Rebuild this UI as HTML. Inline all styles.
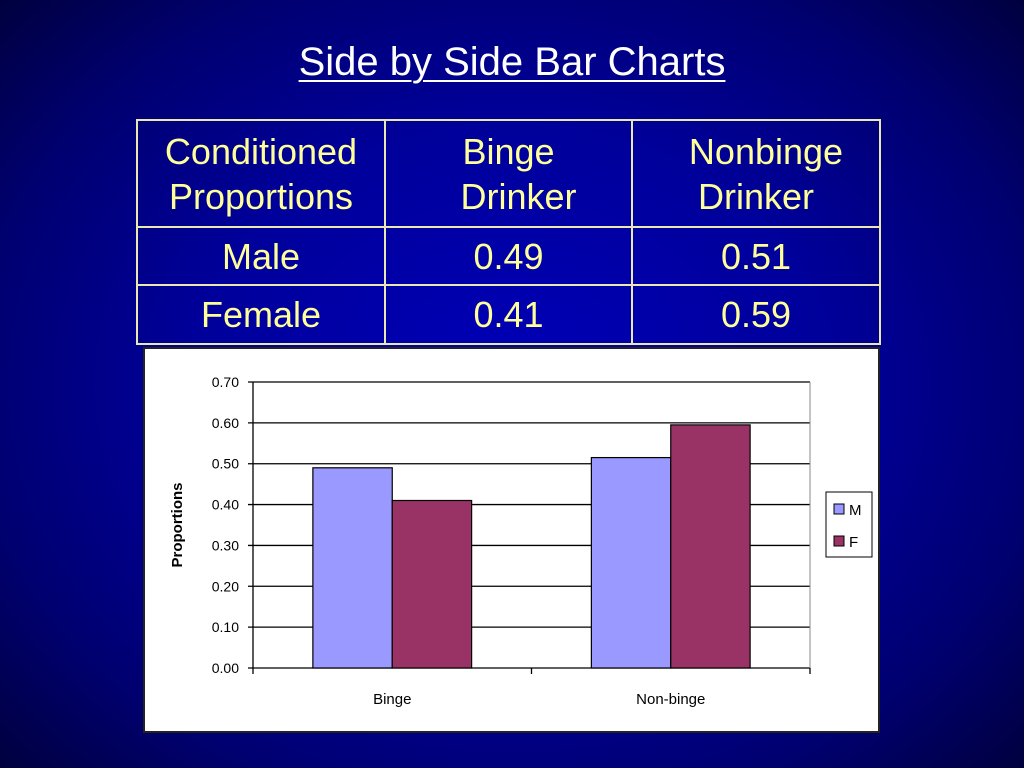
<!DOCTYPE html>
<html><head><meta charset="utf-8"><style>
html,body{margin:0;padding:0}
body{width:1024px;height:768px;position:relative;overflow:hidden;font-family:"Liberation Sans",Arial,sans-serif;
background:radial-gradient(ellipse 70% 75% at 50% 50%,#0000b8 0%,#00009a 45%,#000070 75%,#00003a 100%);}
.title{position:absolute;left:0;width:1024px;top:40px;text-align:center;color:#fff;font-size:40px;text-decoration:underline;text-decoration-thickness:2px;text-underline-offset:5px}
table{position:absolute;left:136px;top:119px;border-collapse:collapse;color:#ffff99;font-size:36px}
td{border:2px solid #e8e8b0;text-align:center;padding:0;line-height:45px}
</style></head><body>
<div class="title">Side by Side Bar Charts</div>
<table>
<tr style="height:107px"><td style="width:246px">Conditioned<br>Proportions</td><td style="width:245px">Binge<br>&nbsp;&nbsp;Drinker</td><td style="width:246px">&nbsp;&nbsp;Nonbinge<br>Drinker</td></tr>
<tr style="height:58px"><td>Male</td><td>0.49</td><td>0.51</td></tr>
<tr style="height:59px"><td>Female</td><td>0.41</td><td>0.59</td></tr>
</table>
<svg id="chart" style="position:absolute;left:0;top:0" width="1024" height="768" font-family="Liberation Sans, Arial, sans-serif">
<rect x="144" y="348" width="735" height="384" fill="#fff" stroke="#222" stroke-width="2"/>
</svg>
<script>
const categories=["Binge","Non-binge"];
const seriesNames=["M","F"];
const maleValues=[0.49,0.515];
const femaleValues=[0.41,0.595];
const tickValues=[0,0.1,0.2,0.3,0.4,0.5,0.6,0.7];
const tickLabels=["0.00","0.10","0.20","0.30","0.40","0.50","0.60","0.70"];
const svg=document.getElementById('chart');
const NS='http://www.w3.org/2000/svg';
const X0=253,X1=810,Y0=668,Y1=382,VMAX=0.7;
const y=v=>Y0-(v/VMAX)*(Y0-Y1);
const catW=(X1-X0)/categories.length;
const barW=catW*0.285, off=catW*0.215;
function mk(t,a){const e=document.createElementNS(NS,t);for(const k in a)e.setAttribute(k,a[k]);svg.appendChild(e);return e;}
tickValues.forEach((v,i)=>{
 const g=mk('line',{x1:X0-5,x2:X1,y1:y(v),y2:y(v),stroke:'#000','stroke-width':1.3});
 
 
 const t=mk('text',{x:X0-14,y:y(v)+5,'text-anchor':'end','font-size':14});
 t.textContent=tickLabels[i];
 
 
});
const ax=mk('line',{x1:X0,x2:X0,y1:Y1,y2:Y0,stroke:'#000','stroke-width':1.3});


const rx=mk('line',{x1:X1,x2:X1,y1:Y1,y2:Y0,stroke:'#888','stroke-width':1});


for(let i=0;i<=categories.length;i++){
 const tk=mk('line',{x1:X0+i*catW,x2:X0+i*catW,y1:Y0,y2:Y0+6,stroke:'#000','stroke-width':1.3});
 
 
}
const colors=['#9999ff','#993366'];
const series=[maleValues,femaleValues];
categories.forEach((c,i)=>{
 series.forEach((vals,s)=>{
  const bx=X0+i*catW+off+s*barW;
  const r=mk('rect',{x:bx,y:y(vals[i]),width:barW,height:Y0-y(vals[i]),fill:colors[s],stroke:'#000','stroke-width':1.2});
  
  
 });
 const t=mk('text',{x:X0+(i+0.5)*catW,y:704,'text-anchor':'middle','font-size':15});
 t.textContent=c;
 
 
});
const yt=mk('text',{x:0,y:0,'text-anchor':'middle','font-size':15,'font-weight':'bold',transform:'translate(182,525) rotate(-90)'});
yt.textContent='Proportions';


const lg=mk('rect',{x:826,y:492,width:46,height:65,fill:'#fff',stroke:'#000','stroke-width':1});


seriesNames.forEach((n,s)=>{
 const sw=mk('rect',{x:834,y:504+s*32,width:10,height:10,fill:colors[s],stroke:'#000','stroke-width':1});
 
 
 const t=mk('text',{x:849,y:515+s*32,'font-size':15});
 t.textContent=n;
 
 
});
</script>
</body></html>
